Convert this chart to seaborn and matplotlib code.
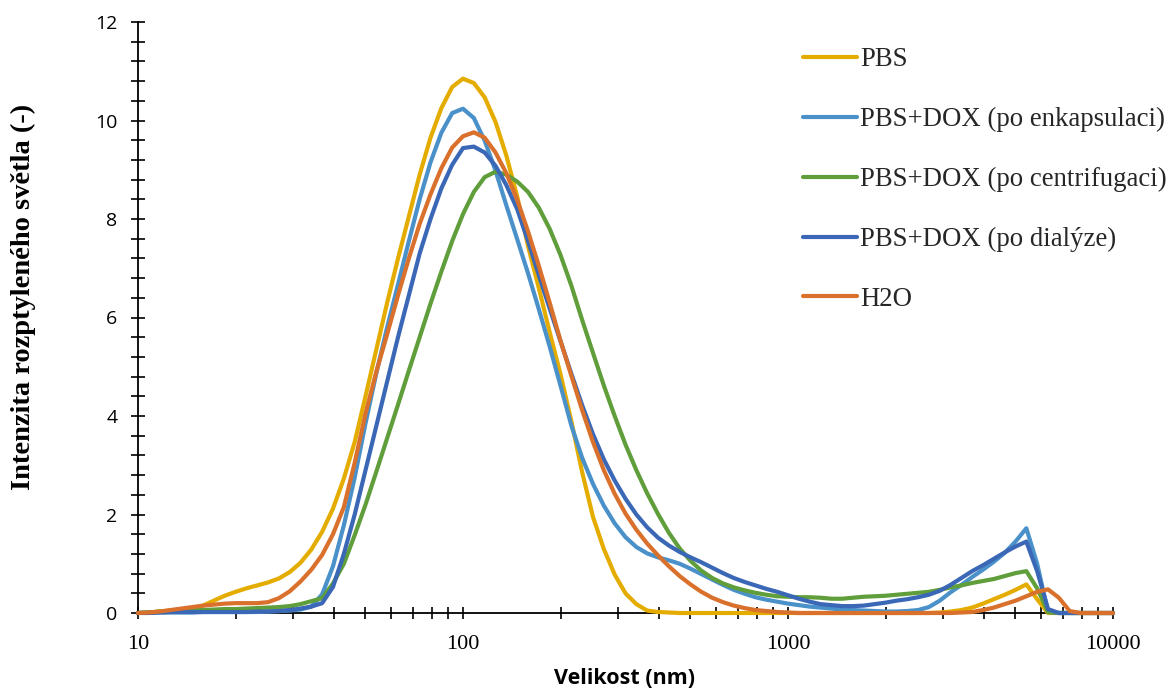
import matplotlib
matplotlib.use("Agg")
import matplotlib.pyplot as plt
import pandas as pd
import seaborn as sns
from matplotlib.lines import Line2D
from matplotlib.ticker import FixedLocator, LogLocator, NullFormatter, MultipleLocator
from matplotlib.font_manager import FontProperties

# Size bins (nm), 30 per decade
size_nm = [
    10.00, 10.80, 11.66, 12.59, 13.59, 14.68, 15.85, 17.11, 18.48, 19.95,
    21.54, 23.26, 25.12, 27.12, 29.29, 31.62, 34.15, 36.87, 39.81, 42.99,
    46.42, 50.12, 54.12, 58.43, 63.10, 68.13, 73.56, 79.43, 85.77, 92.61,
    100.0, 108.0, 116.6, 125.9, 135.9, 146.8, 158.5, 171.1, 184.8, 199.5,
    215.4, 232.6, 251.2, 271.2, 292.9, 316.2, 341.5, 368.7, 398.1, 429.9,
    464.2, 501.2, 541.2, 584.3, 631.0, 681.3, 735.6, 794.3, 857.7, 926.1,
    1000, 1080, 1166, 1259, 1359, 1468, 1585, 1711, 1848, 1995,
    2154, 2326, 2512, 2712, 2929, 3162, 3415, 3687, 3981, 4299,
    4642, 5012, 5412, 5843, 6310, 6813, 7356, 7943, 8577, 9261,
    10000,
]

pbs = [
    0.00, 0.01, 0.03, 0.05, 0.07, 0.09, 0.15, 0.25, 0.35, 0.43,
    0.50, 0.56, 0.62, 0.70, 0.83, 1.02, 1.29, 1.65, 2.12, 2.73,
    3.47, 4.40, 5.35, 6.30, 7.20, 8.05, 8.90, 9.65, 10.25, 10.68,
    10.85, 10.76, 10.47, 9.97, 9.29, 8.46, 7.45, 6.60, 5.70, 4.85,
    3.90, 2.86, 1.95, 1.30, 0.78, 0.40, 0.18, 0.05, 0.02, 0.01,
    0, 0, 0, 0, 0, 0, 0, 0, 0, 0,
    0, 0, 0, 0, 0, 0, 0, 0, 0, 0,
    0, 0, 0, 0, 0.01, 0.03, 0.06, 0.11, 0.19, 0.28,
    0.37, 0.47, 0.58, 0.28, 0.00, 0, 0, 0, 0, 0,
    0,
]

pbs_dox_enkapsulace = [
    0.00, 0.01, 0.01, 0.01, 0.01, 0.01, 0.02, 0.02, 0.02, 0.02,
    0.02, 0.02, 0.03, 0.04, 0.05, 0.07, 0.13, 0.38, 0.95, 1.78,
    2.75, 3.85, 4.87, 5.80, 6.67, 7.55, 8.40, 9.15, 9.75, 10.15,
    10.24, 10.05, 9.59, 8.98, 8.28, 7.59, 6.90, 6.17, 5.41, 4.62,
    3.81, 3.15, 2.62, 2.18, 1.82, 1.54, 1.34, 1.21, 1.13, 1.07,
    1.00, 0.90, 0.79, 0.68, 0.57, 0.47, 0.39, 0.32, 0.27, 0.23,
    0.19, 0.16, 0.13, 0.11, 0.09, 0.07, 0.06, 0.05, 0.04, 0.03,
    0.03, 0.04, 0.06, 0.12, 0.25, 0.42, 0.57, 0.73, 0.88, 1.04,
    1.22, 1.45, 1.72, 1.00, 0.02, 0, 0, 0, 0, 0,
    0,
]

pbs_dox_centrifugace = [
    0.00, 0.01, 0.03, 0.04, 0.05, 0.06, 0.06, 0.07, 0.08, 0.08,
    0.09, 0.10, 0.11, 0.12, 0.14, 0.18, 0.24, 0.30, 0.60, 1.00,
    1.58, 2.20, 2.87, 3.55, 4.23, 4.92, 5.60, 6.28, 6.93, 7.55,
    8.10, 8.55, 8.85, 8.96, 8.90, 8.76, 8.55, 8.23, 7.80, 7.27,
    6.65, 5.95, 5.28, 4.62, 4.00, 3.42, 2.90, 2.43, 2.01, 1.63,
    1.31, 1.06, 0.86, 0.71, 0.60, 0.52, 0.46, 0.41, 0.37, 0.34,
    0.33, 0.32, 0.32, 0.31, 0.29, 0.29, 0.31, 0.33, 0.34, 0.35,
    0.37, 0.39, 0.41, 0.43, 0.47, 0.52, 0.56, 0.61, 0.65, 0.69,
    0.75, 0.81, 0.85, 0.50, 0.02, 0, 0, 0, 0, 0,
    0,
]

pbs_dox_dialyza = [
    0.00, 0.00, 0.01, 0.02, 0.02, 0.02, 0.02, 0.02, 0.02, 0.02,
    0.02, 0.03, 0.03, 0.04, 0.06, 0.09, 0.13, 0.20, 0.53, 1.20,
    2.00, 2.90, 3.80, 4.70, 5.60, 6.45, 7.30, 8.00, 8.62, 9.10,
    9.44, 9.47, 9.35, 9.08, 8.69, 8.20, 7.55, 6.86, 6.18, 5.52,
    4.86, 4.22, 3.63, 3.12, 2.69, 2.32, 2.00, 1.74, 1.53, 1.37,
    1.24, 1.13, 1.03, 0.92, 0.81, 0.71, 0.63, 0.56, 0.49, 0.43,
    0.36, 0.29, 0.23, 0.18, 0.16, 0.14, 0.14, 0.15, 0.18, 0.21,
    0.25, 0.28, 0.32, 0.37, 0.45, 0.57, 0.71, 0.85, 0.97, 1.10,
    1.23, 1.35, 1.45, 0.85, 0.08, 0, 0, 0, 0, 0,
    0,
]

h2o = [
    0.00, 0.01, 0.03, 0.06, 0.09, 0.12, 0.15, 0.17, 0.19, 0.20,
    0.20, 0.20, 0.22, 0.30, 0.44, 0.64, 0.88, 1.18, 1.60, 2.15,
    3.05, 4.05, 4.90, 5.66, 6.45, 7.20, 7.90, 8.50, 9.03, 9.45,
    9.68, 9.76, 9.65, 9.35, 8.93, 8.39, 7.75, 7.05, 6.30, 5.53,
    4.82, 4.12, 3.47, 2.90, 2.42, 2.02, 1.69, 1.41, 1.17, 0.95,
    0.75, 0.58, 0.43, 0.31, 0.22, 0.15, 0.10, 0.06, 0.04, 0.02,
    0.01, 0, 0, 0, 0, 0, 0, 0, 0, 0,
    0, 0, 0, 0, 0, 0, 0.01, 0.02, 0.06, 0.11,
    0.18, 0.25, 0.34, 0.43, 0.48, 0.31, 0.04, 0, 0, 0,
    0,
]

series_names = [
    "PBS",
    "PBS+DOX (po enkapsulaci)",
    "PBS+DOX (po centrifugaci)",
    "PBS+DOX (po dialýze)",
    "H2O",
]
series_values = [pbs, pbs_dox_enkapsulace, pbs_dox_centrifugace, pbs_dox_dialyza, h2o]
series_colors = ["#E5AC00", "#4A90C9", "#5F9E3A", "#3A67B6", "#D9702B"]

x_ticks = [10, 100, 1000, 10000]
x_tick_labels = ["10", "100", "1000", "10000"]
y_ticks = [0, 2, 4, 6, 8, 10, 12]

df = pd.concat(
    [pd.DataFrame({"size": size_nm, "intensity": vals, "sample": name})
     for name, vals in zip(series_names, series_values)],
    ignore_index=True,
)

sns.set_style("ticks")

W, H = 1170, 692
fig = plt.figure(figsize=(W / 100, H / 100), dpi=100)
ax = fig.add_axes([138 / W, (H - 613) / H, (1113 - 138) / W, (613 - 22) / H])
ax.set_xscale("log")

palette = dict(zip(series_names, series_colors))
sns.lineplot(
    data=df, x="size", y="intensity", hue="sample", hue_order=series_names,
    palette=palette, linewidth=3.0, estimator=None, sort=False,
    legend=False, ax=ax,
)
for line in ax.lines:
    line.set_clip_on(False)
    line.set_zorder(4)
    line.set_solid_joinstyle("round")

ax.set_xlim(10, 10000)
ax.set_ylim(0, 12)

for side in ("top", "right"):
    ax.spines[side].set_visible(False)
for side in ("left", "bottom"):
    ax.spines[side].set_color("black")
    ax.spines[side].set_linewidth(1.3)
    ax.spines[side].set_zorder(3)

ax.xaxis.set_major_locator(FixedLocator(x_ticks))
ax.set_xticklabels(x_tick_labels)
ax.xaxis.set_minor_locator(LogLocator(base=10, subs=range(2, 10)))
ax.xaxis.set_minor_formatter(NullFormatter())
ax.yaxis.set_major_locator(FixedLocator(y_ticks))
ax.yaxis.set_minor_locator(MultipleLocator(0.4))

ax.tick_params(axis="x", which="both", bottom=True, top=False, direction="inout",
               length=8, width=1.2, color="black", pad=11.5)
ax.tick_params(axis="y", which="both", left=True, right=False, direction="inout",
               length=10.5, width=1.2, color="black", pad=9.5)

for lab in ax.get_xticklabels():
    lab.set_fontproperties(FontProperties(family="Liberation Serif", size=16))
    lab.set_color("black")
for lab in ax.get_yticklabels():
    lab.set_fontproperties(FontProperties(family="Open Sans", size=14))
    lab.set_color("black")

ax.set_xlabel("")
ax.set_ylabel("")
fig.text(624 / W, 1 - 679 / H, "Velikost (nm)", ha="center", va="center",
         fontfamily="Open Sans", fontweight="bold", fontsize=15.5, color="black")
fig.text(23 / W, 1 - 297 / H, "Intenzita rozptyleného světla (-)", ha="center",
         va="center", rotation=90, fontfamily="Liberation Serif",
         fontweight="bold", fontsize=20.5, color="black")

handles = [Line2D([], [], color=c, linewidth=3.0) for c in series_colors]
fig.legend(
    handles, series_names, loc="upper left",
    bbox_to_anchor=(803 / W, 1 - 47 / H), frameon=False,
    prop=FontProperties(family="Liberation Serif", size=19.3),
    handlelength=2.0, handletextpad=0.12, labelspacing=1.3,
    borderaxespad=0, borderpad=0,
)

fig.savefig("out.png", dpi=100, facecolor="white")
